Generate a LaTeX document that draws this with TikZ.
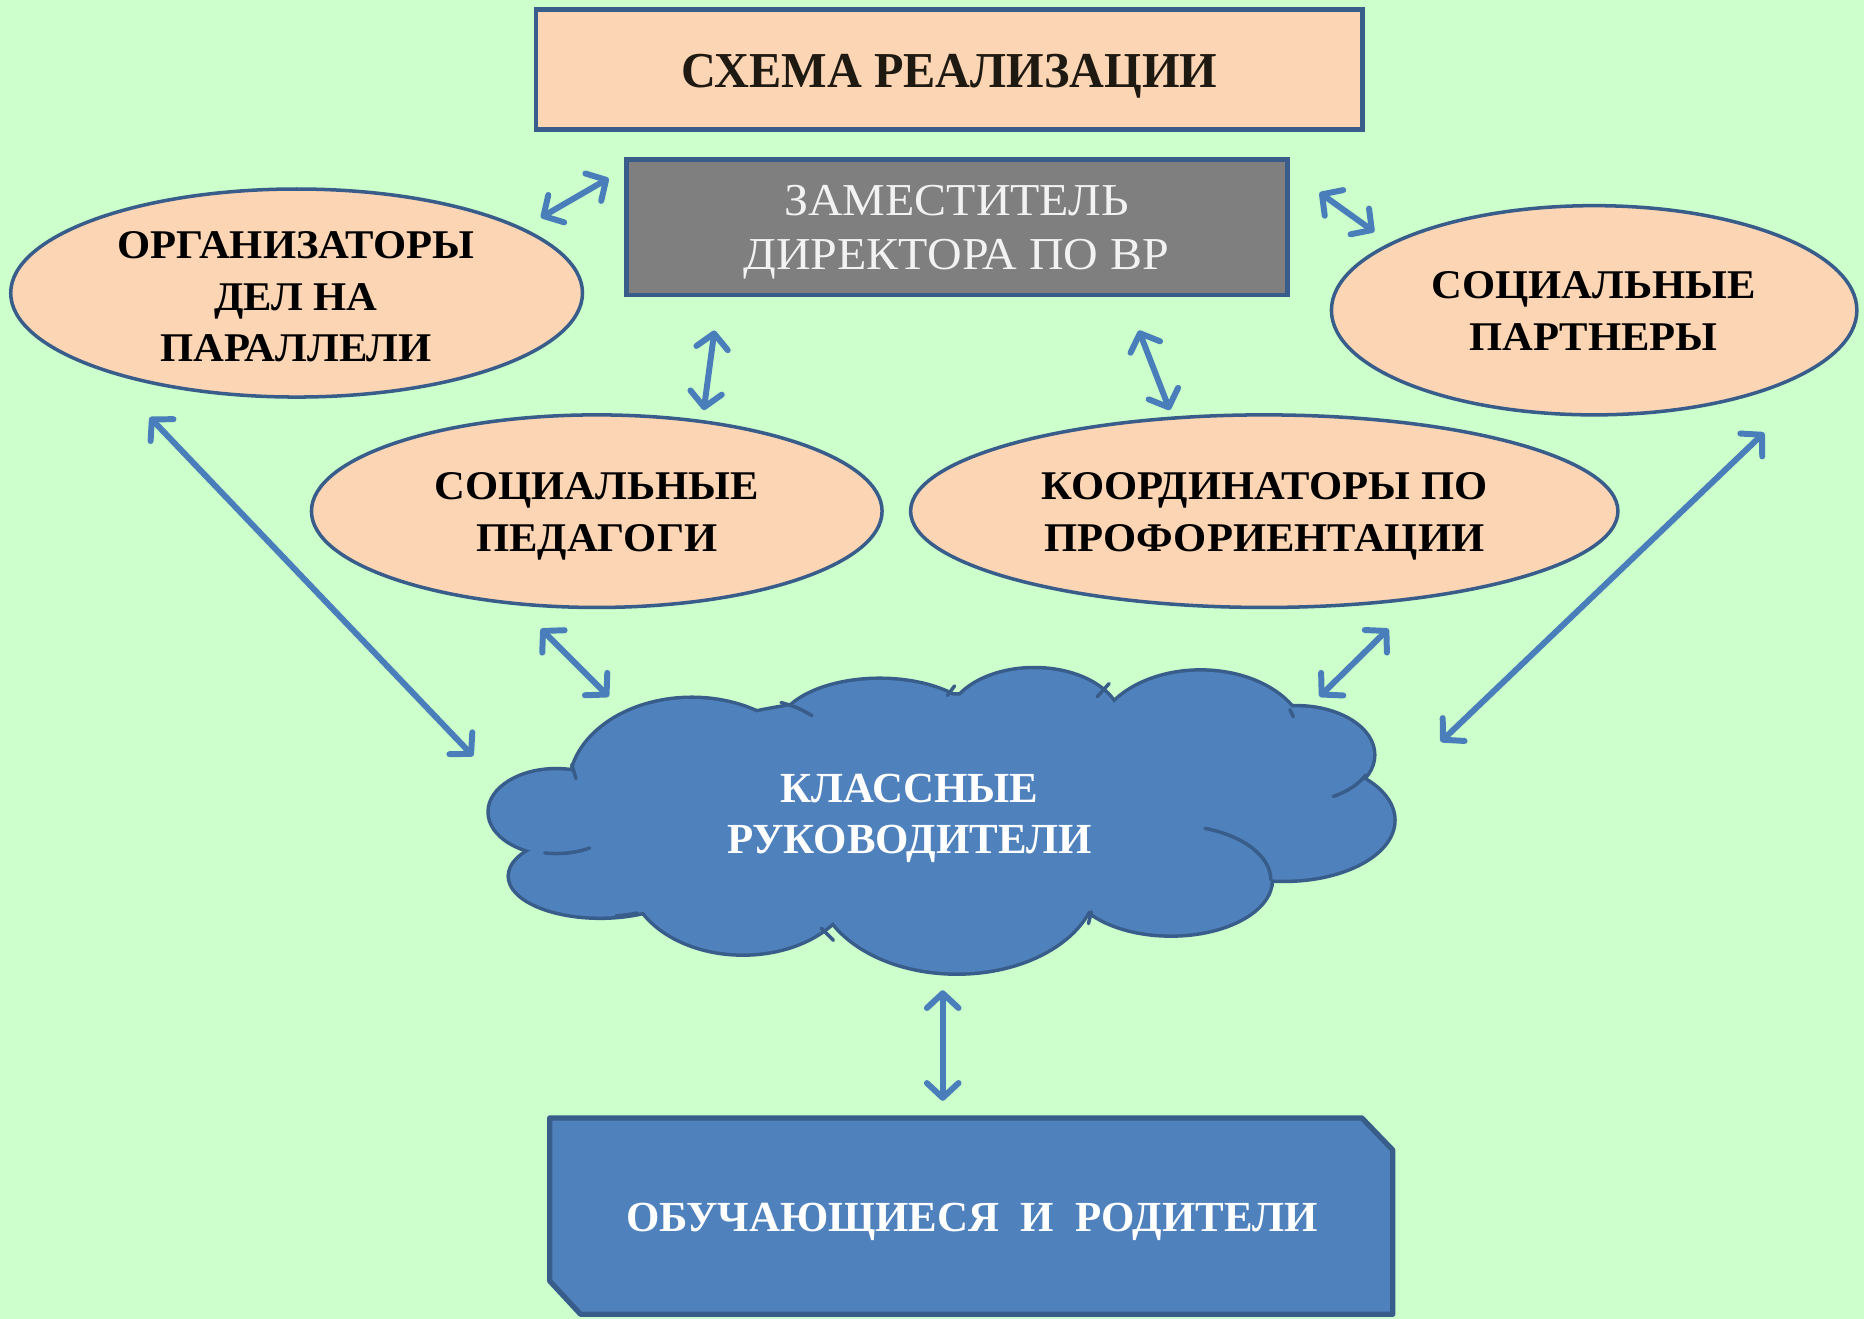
\documentclass[tikz,border=0pt]{standalone}
\usepackage{fontspec}
\setmainfont{Liberation Serif}
\newfontfamily\titlef[FakeStretch=0.96]{Liberation Serif}
\newfontfamily\zamf[FakeStretch=1.05]{Liberation Serif}
\newfontfamily\ellf[FakeStretch=1.045]{Liberation Serif}
\usetikzlibrary{shapes.geometric,arrows.meta}
\newlength\pxu \setlength\pxu{0.011888cm}
\definecolor{bgc}{HTML}{CCFFCC}
\definecolor{peach}{HTML}{FCD5B5}
\definecolor{edgec}{HTML}{385D8A}
\definecolor{grayc}{HTML}{7F7F7F}
\definecolor{bluec}{HTML}{4F81BD}
\definecolor{arrowc}{HTML}{4A7EBB}
\definecolor{darktxt}{HTML}{1E1A12}
\tikzset{
  peachbox/.style={draw=edgec, line width=1.3pt, fill=peach},
  peachell/.style={ellipse, draw=edgec, line width=1pt, fill=peach, inner sep=0pt},
  elltext/.style={anchor=base, align=center, inner sep=0pt, text=black,
     font=\ellf\bfseries\fontsize{11.6}{14.7}\selectfont},
  whitetext/.style={anchor=base, align=center, inner sep=0pt, text=white,
     font=\bfseries\fontsize{12.2}{14.55}\selectfont},
  biarrow/.style={draw=arrowc, line width=1.7pt, line cap=round,
     arrows={Straight Barb[length=4.2pt,width=9pt,round]-Straight Barb[length=4.2pt,width=9pt,round]}},
  cloudline/.style={draw=edgec, line width=1pt, line cap=round},
}
\begin{document}
\begin{tikzpicture}[x=0.011888cm, y=-0.011888cm]
\useasboundingbox (0,0) rectangle (1568,1109.55);
\fill[bgc] (0,0) rectangle (1568,1109.55);

% title
\node[peachbox, minimum width=695\pxu, minimum height=101\pxu, inner sep=0pt] (title) at (798.5,58.5) {};
\node[anchor=base, inner sep=0pt, text=darktxt, font=\titlef\bfseries\fontsize{14.3}{17}\selectfont]
  (titletext) at (798.5,74) {СХЕМА РЕАЛИЗАЦИИ};

% deputy director
\node[draw=edgec, line width=1.3pt, fill=grayc, minimum width=556\pxu, minimum height=114\pxu, inner sep=0pt] (zam) at (805,191) {};
\node[anchor=base, align=center, inner sep=0pt, text=white!95!black, font=\zamf\fontsize{13}{15.6}\selectfont]
  (zamtext) at (804.5,227) {ЗАМЕСТИТЕЛЬ\\ДИРЕКТОРА ПО ВР};

% ellipses
\node[peachell, minimum width=481\pxu, minimum height=175\pxu] (org) at (249.5,246.5) {};
\node[elltext] (orgtext) at (249,304.3) {ОРГАНИЗАТОРЫ\\ДЕЛ НА\\ПАРАЛЛЕЛИ};
\node[peachell, minimum width=442\pxu, minimum height=176\pxu] (part) at (1341,261) {};
\node[elltext] (parttext) at (1340.5,294.5) {СОЦИАЛЬНЫЕ\\ПАРТНЕРЫ};
\node[peachell, minimum width=480\pxu, minimum height=162\pxu] (ped) at (502,430) {};
\node[elltext] (pedtext) at (502,464) {СОЦИАЛЬНЫЕ\\ПЕДАГОГИ};
\node[peachell, minimum width=595\pxu, minimum height=162\pxu] (coord) at (1063.5,430) {};
\node[elltext] (coordtext) at (1063.5,464) {КООРДИНАТОРЫ ПО\\ПРОФОРИЕНТАЦИИ};

% cloud
\def\puffs{468/683/56/35, 505/737/76/34, 582/662/102/74, 740/615/85/43, 870/608/72/45,
  1010/625/88/60, 1090/635/65/40, 1080/690/92/50, 985/740/84/46, 805/740/117/78,
  625/735/95/67, 790/680/290/95}
\foreach \cx/\cy/\rx/\ry in \puffs
  \draw[edgec, line width=2pt] (\cx,\cy) ellipse [x radius=\rx, y radius=\ry];
\foreach \cx/\cy/\rx/\ry in \puffs
  \fill[bluec] (\cx,\cy) ellipse [x radius=\rx, y radius=\ry];
\draw[cloudline] (481,643) -- (484.5,655);
\draw[cloudline] (458.3,717.5) arc[start angle=100, end angle=60, x radius=56, y radius=35];
\draw[cloudline] (518.2,770.5) arc[start angle=80, end angle=66, x radius=76, y radius=34];
\draw[cloudline] (691,781) -- (701,791);
\draw[cloudline] (918,767) -- (915.6,777);
\draw[cloudline] (1013.7,696.8) arc[start angle=-70, end angle=0, x radius=84, y radius=46];
\draw[cloudline] (1148.9,651.9) arc[start angle=25, end angle=61, x radius=65, y radius=40];
\draw[cloudline] (1085,597) -- (1088,603);
\draw[cloudline] (923,586) -- (933,575);
\draw[cloudline] (797,585) -- (803,577);
\draw[cloudline] (683,602) to[bend right=8] (657,591);
\node[whitetext] (cloud) at (765,718) {КЛАССНЫЕ\\РУКОВОДИТЕЛИ};

% bottom box
\node[minimum width=708\pxu, minimum height=164\pxu, inner sep=0pt] (botshape) at (817,1023) {};
\draw[edgec, line width=1.5pt, fill=bluec, line join=round]
  (botshape.north west) -- ([xshift=-26\pxu]botshape.north east)
  -- ([yshift=-27\pxu]botshape.north east) -- (botshape.south east)
  -- ([xshift=26\pxu]botshape.south west) -- ([yshift=28\pxu]botshape.south west) -- cycle;
\node[whitetext] (bot) at (817.5,1036) {ОБУЧАЮЩИЕСЯ\ \ И\ \ РОДИТЕЛИ};

% arrow end coordinates
\coordinate (a1) at (455,183);  \coordinate (b1) at (512,150);
\coordinate (a2) at (1110,162); \coordinate (b2) at (1156,195);
\coordinate (a3) at (601,278);  \coordinate (b3) at (592,345);
\coordinate (a4) at (958,278);  \coordinate (b4) at (984,345);
\coordinate (a5) at (126,351);  \coordinate (b5) at (398,636);
\coordinate (a6) at (455,529);  \coordinate (b6) at (512,586);
\coordinate (a7) at (1168,529); \coordinate (b7) at (1110,586);
\coordinate (a8) at (1484,364); \coordinate (b8) at (1212,624);
\coordinate (a9) at (793,833);  \coordinate (b9) at (793,926);

\foreach \i in {1,...,9} \draw[biarrow] (a\i) -- (b\i);
\end{tikzpicture}
\end{document}
